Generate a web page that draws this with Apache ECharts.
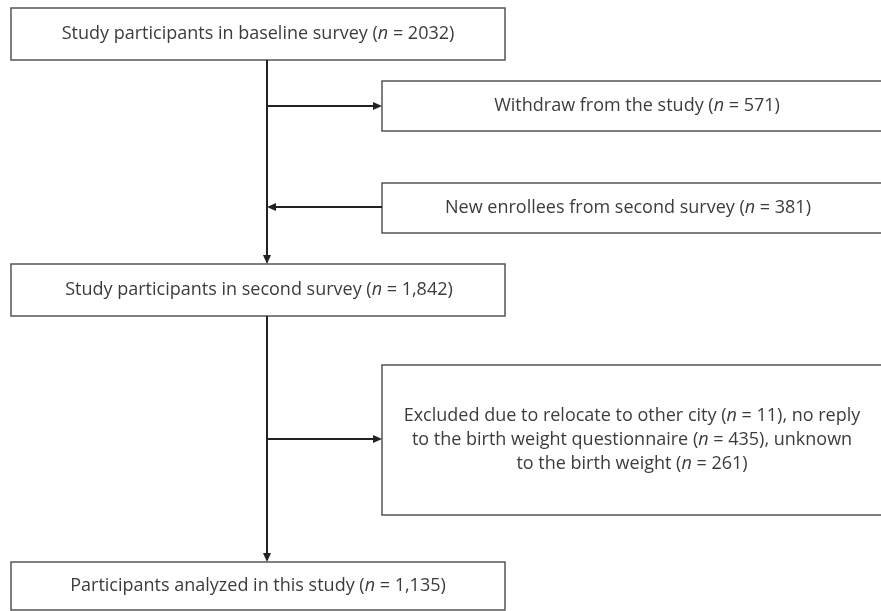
<!DOCTYPE html>
<html>
<head>
<meta charset="utf-8">
<script src="https://cdn.jsdelivr.net/npm/echarts@6/dist/echarts.min.js"></script>
<style>html,body{margin:0;padding:0;background:#fff}#c{width:881px;height:611px}</style>
</head>
<body>
<div id="c"></div>
<script>
// ---- data ----
const stageTitles = ['Study participants in baseline survey', 'Withdraw from the study', 'New enrollees from second survey', 'Study participants in second survey', 'Participants analyzed in this study'];
const stageCounts = ['2032', '571', '381', '1,842', '1,135'];
const excludedReasons = ['relocate to other city', 'no reply to the birth weight questionnaire', 'unknown to the birth weight'];
const excludedCounts = ['11', '435', '261'];

// ---- layout (pixel frame of the 881x611 canvas) ----
const boxLayout = [
  { x0: 11, y0: 8, x1: 505, y1: 60 },     // baseline
  { x0: 382, y0: 81, x1: 892, y1: 131 },  // withdraw
  { x0: 382, y0: 183, x1: 892, y1: 233 }, // new enrollees
  { x0: 11, y0: 264, x1: 505, y1: 316 },  // second survey
  { x0: 382, y0: 365, x1: 892, y1: 515 }, // excluded
  { x0: 11, y0: 562, x1: 505, y1: 610 }   // analyzed
];
const textCenterX = [258, 637, 628, 259, 632, 258];
const connectors = [
  [267, 60, 267, 264],
  [267, 106, 382, 106],
  [382, 207, 267, 207],
  [267, 316, 267, 562],
  [267, 439, 382, 439]
];

function nText(title, count) { return title + ' ({i|n} = ' + count + ')'; }
const excludedText =
  'Excluded due to ' + excludedReasons[0] + ' ({i|n} = ' + excludedCounts[0] + '), no reply\n' +
  excludedReasons[1].replace('no reply ', '') + ' ({i|n} = ' + excludedCounts[1] + '), unknown\n' +
  excludedReasons[2].replace('unknown ', '') + ' ({i|n} = ' + excludedCounts[2] + ')';
const boxTexts = [
  nText(stageTitles[0], stageCounts[0]),
  nText(stageTitles[1], stageCounts[1]),
  nText(stageTitles[2], stageCounts[2]),
  nText(stageTitles[3], stageCounts[3]),
  excludedText,
  nText(stageTitles[4], stageCounts[4])
];

const boxData = boxLayout.map((b, i) => [b.x0, b.y0, b.x1, b.y1, i]);
const FONT = '"Open Sans", "Noto Sans", sans-serif';
const FS = 18, LH = 24, TXT = '#3c3c3c';
const chart = echarts.init(document.getElementById('c'));
chart.setOption({
  animation: false,
  grid: { left: 0, right: 0, top: 0, bottom: 0 },
  xAxis: { type: 'value', min: 0, max: 881, show: false },
  yAxis: { type: 'value', min: 0, max: 611, inverse: true, show: false },
  series: [
    {
      type: 'custom',
      coordinateSystem: 'cartesian2d',
      data: boxData,
      renderItem: function (params, api) {
        const p0 = api.coord([api.value(0), api.value(1)]);
        const p1 = api.coord([api.value(2), api.value(3)]);
        const i = api.value(4);
        const tc = api.coord([textCenterX[i], (api.value(1) + api.value(3)) / 2]);
        return {
          type: 'group',
          children: [
            { type: 'rect', shape: { x: p0[0], y: p0[1], width: p1[0] - p0[0], height: p1[1] - p0[1] },
              style: { fill: '#fff', stroke: '#555', lineWidth: 1.5 } },
            { type: 'text', style: {
                text: boxTexts[i], x: tc[0], y: tc[1], align: 'center', verticalAlign: 'middle',
                fontFamily: FONT, fontSize: FS, fill: TXT, lineHeight: LH,
                rich: { i: { fontStyle: 'italic', fontFamily: FONT, fontSize: FS, fill: TXT, lineHeight: LH } }
              } }
          ]
        };
      }
    },
    {
      type: 'custom',
      coordinateSystem: 'cartesian2d',
      data: connectors,
      renderItem: function (params, api) {
        const a = api.coord([api.value(0), api.value(1)]);
        const b = api.coord([api.value(2), api.value(3)]);
        const dx = b[0] - a[0], dy = b[1] - a[1];
        const len = Math.sqrt(dx * dx + dy * dy);
        const ux = dx / len, uy = dy / len;
        const L = 9, Wd = 4;
        const base = [b[0] - ux * L, b[1] - uy * L];
        const tri = [b, [base[0] - uy * Wd, base[1] + ux * Wd], [base[0] + uy * Wd, base[1] - ux * Wd]];
        return {
          type: 'group',
          children: [
            { type: 'line', shape: { x1: a[0], y1: a[1], x2: base[0], y2: base[1] },
              style: { stroke: '#222', lineWidth: 2 } },
            { type: 'polygon', shape: { points: tri }, style: { fill: '#222' } }
          ]
        };
      }
    }
  ]
});
</script>
</body>
</html>
